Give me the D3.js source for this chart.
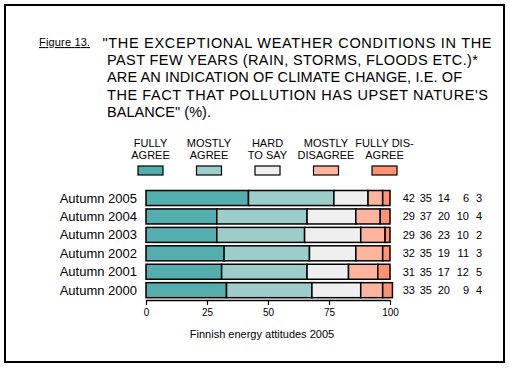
<!DOCTYPE html>
<html><head><meta charset="utf-8">
<script src="https://cdn.jsdelivr.net/npm/d3@7"></script>
<style>body{margin:0;background:#fff}svg{display:block}text{font-family:Arial,"Liberation Sans",sans-serif;fill:#000}</style>
</head><body>
<svg id="c" width="509" height="368"></svg>
<script>
const years = ["Autumn 2005","Autumn 2004","Autumn 2003","Autumn 2002","Autumn 2001","Autumn 2000"];
const fullyAgree    = [42,29,29,32,31,33];
const mostlyAgree   = [35,37,36,35,35,35];
const hardToSay     = [14,20,23,19,17,20];
const mostlyDisagree= [6,10,10,11,12,9];
const fullyDisagree = [3,4,2,3,5,4];
const seriesNames = [["FULLY","AGREE"],["MOSTLY","AGREE"],["HARD","TO SAY"],["MOSTLY","DISAGREE"],["FULLY DIS-","AGREE"]];
const colors = ["#55aeae","#9dcdcb","#efefef","#ffb59d","#ff9272"];
const xTicks = [0,25,50,75,100];
const titleLines = ["\"THE EXCEPTIONAL WEATHER CONDITIONS IN THE","PAST FEW YEARS (RAIN, STORMS, FLOODS ETC.)*","ARE AN INDICATION OF CLIMATE CHANGE, I.E. OF","THE FACT THAT POLLUTION HAS UPSET NATURE'S","BALANCE\" (%)."];
const titleWidths = [389,371,355,381,104];
const figLabel = "Figure 13.";
const caption = "Finnish energy attitudes 2005";

const series = [fullyAgree,mostlyAgree,hardToSay,mostlyDisagree,fullyDisagree];
const svg = d3.select("#c");
svg.append("rect").attr("x",5).attr("y",5).attr("width",499).attr("height",357)
  .attr("fill","none").attr("stroke","#000").attr("stroke-width",2);

// title
svg.append("text").attr("x",39).attr("y",46).attr("font-size",11).attr("textLength",51).attr("lengthAdjust","spacing")
  .attr("text-decoration","underline").text(figLabel);
svg.selectAll("text.t").data(titleLines).enter().append("text").attr("class","t")
  .attr("x",(d,i)=>i===0?102.5:107).attr("y",(d,i)=>47.5+i*17.4).attr("font-size",14.5)
  .attr("textLength",(d,i)=>titleWidths[i]).attr("lengthAdjust","spacing").text(d=>d);

const x = d3.scaleLinear().domain([0,100]).range([146,390]);
const y = d3.scaleBand().domain(years).range([188.8,299.4]).paddingInner(0.185).paddingOuter(0.0925);

const rows = years.map((yr,i)=>{
  let acc=0; return series.map((s,k)=>{const o={yr,k,x0:acc,x1:acc+s[i],v:s[i]}; acc+=s[i]; return o;});
});
const g = svg.append("g");
rows.forEach(r=>{
  g.selectAll(null).data(r).enter().append("rect")
   .attr("x",d=>x(d.x0)).attr("width",d=>x(d.x1)-x(d.x0))
   .attr("y",d=>y(d.yr)).attr("height",y.bandwidth())
   .attr("fill",d=>colors[d.k]).attr("stroke","#000").attr("stroke-width",1.5);
});
// year labels
svg.selectAll("text.yl").data(years).enter().append("text").attr("class","yl")
  .attr("x",137).attr("y",d=>y(d)+y.bandwidth()/2+4.5).attr("text-anchor","end").attr("font-size",13).text(d=>d);
// value columns
const colRight = [415,432,450,469,482];
rows.forEach(r=>{
  svg.selectAll(null).data(r).enter().append("text")
   .attr("x",d=>colRight[d.k]).attr("y",d=>y(d.yr)+y.bandwidth()/2+4)
   .attr("text-anchor","end").attr("font-size",11).text(d=>d.v);
});
// axis
const ax = svg.append("g").attr("transform","translate(0,300)")
  .call(d3.axisBottom(x).tickValues(xTicks).tickSize(5).tickPadding(4).tickSizeOuter(0));
ax.select(".domain").attr("stroke","#000").attr("stroke-width",1.5);
ax.selectAll(".tick line").attr("stroke","#000").attr("stroke-width",1.2);
ax.selectAll(".tick text").attr("font-size",10).attr("font-family","Arial,'Liberation Sans',sans-serif").attr("fill","#000");
svg.append("text").attr("x",262).attr("y",338).attr("text-anchor","middle").attr("font-size",11).text(caption);

// legend
const lx = d3.scalePoint().domain(d3.range(5)).range([150.5,384.5]);
const lg = svg.selectAll("g.lg").data(seriesNames).enter().append("g").attr("class","lg")
  .attr("transform",(d,i)=>`translate(${lx(i)},0)`);
lg.append("text").attr("y",147).attr("text-anchor","middle").attr("font-size",11).text(d=>d[0]);
lg.append("text").attr("y",159).attr("text-anchor","middle").attr("font-size",11).text(d=>d[1]);
lg.append("rect").attr("x",-12.5).attr("y",166).attr("width",25).attr("height",9)
  .attr("fill",(d,i)=>colors[i]).attr("stroke","#000").attr("stroke-width",1.2);
</script>
</body></html>
